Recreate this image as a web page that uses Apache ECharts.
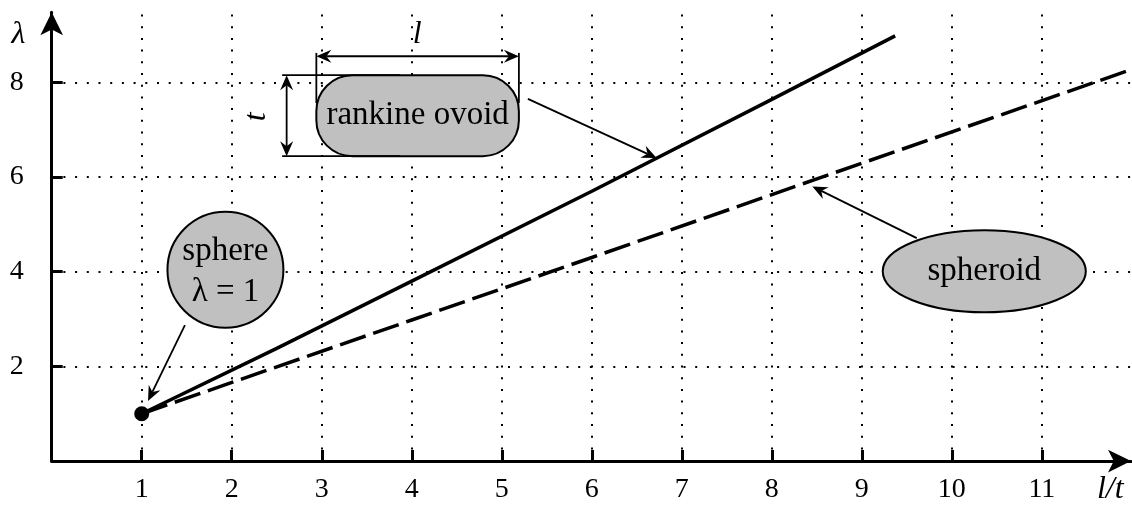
<!DOCTYPE html>
<html>
<head>
<meta charset="utf-8">
<script src="https://cdn.jsdelivr.net/npm/echarts@6/dist/echarts.min.js"></script>
<style>
  html, body { margin: 0; padding: 0; background: #ffffff; }
  #chart { width: 1132px; height: 506px; }
</style>
</head>
<body>
<div id="chart"></div>
<script>
// Slenderness ratio l/t against lambda for two body shapes
const xTickLabels = [1, 2, 3, 4, 5, 6, 7, 8, 9, 10, 11];
const yTickLabels = [2, 4, 6, 8];

const rankineX = [1, 2.5, 4, 6, 8, 9.37];
const rankineY = [1, 2.38, 3.80, 5.70, 7.64, 8.98];

const spheroidX = [1, 4, 6, 8.5, 11.98];
const spheroidY = [1, 2.98, 4.30, 5.96, 8.26];

const spherePoint = [1, 1];

const FONT = '"Liberation Serif", "DejaVu Serif", serif';

const chart = echarts.init(document.getElementById('chart'), null, { renderer: 'canvas' });

const pairs = (xs, ys) => xs.map((x, i) => [x, ys[i]]);

const axisLineStyle = { color: '#000', width: 3 };
const dotted = { color: '#000', width: 2, type: [2, 9.7] };

chart.setOption({
  animation: false,
  backgroundColor: '#ffffff',
  grid: { left: 51.7, right: 1, top: 12.2, bottom: 44.9, containLabel: false },
  xAxis: {
    type: 'value', min: 0, max: 11.99, interval: 1,
    axisLine: { show: true, lineStyle: axisLineStyle, symbol: ['none', 'arrow'], symbolSize: [17, 23] },
    axisTick: { show: true, inside: true, length: 11, customValues: xTickLabels, lineStyle: { color: '#000', width: 3 } },
    axisLabel: { margin: 15, color: '#000', fontFamily: FONT, fontSize: 28, customValues: xTickLabels },
    splitLine: { show: false }
  },
  yAxis: {
    type: 'value', min: 0, max: 9.48, interval: 2,
    axisLine: { show: true, lineStyle: axisLineStyle, symbol: ['none', 'arrow'], symbolSize: [17, 23] },
    axisTick: { show: true, inside: true, length: 11, customValues: yTickLabels, lineStyle: { color: '#000', width: 3 } },
    axisLabel: { margin: 28, color: '#000', fontFamily: FONT, fontSize: 28, customValues: yTickLabels },
    splitLine: { show: false }
  },
  series: [
    {
      // dotted reference grid at every labelled tick
      type: 'line', data: [], z: 1, silent: true,
      markLine: {
        silent: true, symbol: ['none', 'none'], z: 1,
        label: { show: false },
        lineStyle: dotted,
        emphasis: { disabled: true },
        data: xTickLabels.map(v => ({ xAxis: v })).concat(yTickLabels.map(v => ({ yAxis: v })))
      }
    },
    {
      name: 'rankine ovoid', type: 'line', data: pairs(rankineX, rankineY),
      showSymbol: false, symbol: 'none', clip: false, z: 5,
      lineStyle: { color: '#000', width: 3.5 }
    },
    {
      name: 'spheroid', type: 'line', data: pairs(spheroidX, spheroidY),
      showSymbol: false, symbol: 'none', clip: false, z: 5,
      lineStyle: { color: '#000', width: 3.5, type: [27, 8] }
    },
    {
      name: 'sphere', type: 'scatter', data: [spherePoint],
      symbol: 'circle', symbolSize: 15, z: 6,
      itemStyle: { color: '#000', opacity: 1 }
    }
  ]
});

// Annotations, anchored in data coordinates
const P = (x, y) => chart.convertToPixel({ gridIndex: 0 }, [x, y]);
const ink = '#000';
const fill = '#c0c0c0';

function head(tip, ang, L, W, notch) {
  const ux = Math.cos(ang), uy = Math.sin(ang), nx = -uy, ny = ux;
  const bx = tip[0] - ux * L, by = tip[1] - uy * L;
  return {
    type: 'polygon', z: 120,
    shape: { points: [
      tip,
      [bx + nx * W, by + ny * W],
      [tip[0] - ux * (L - notch), tip[1] - uy * (L - notch)],
      [bx - nx * W, by - ny * W]
    ] },
    style: { fill: ink }
  };
}

function arrow(a, b, both, lw) {
  const L = 15, W = 6.5, notch = 5;
  const ang = Math.atan2(b[1] - a[1], b[0] - a[0]);
  const ux = Math.cos(ang), uy = Math.sin(ang);
  const end = [b[0] - ux * (L - notch), b[1] - uy * (L - notch)];
  const start = both ? [a[0] + ux * (L - notch), a[1] + uy * (L - notch)] : a;
  const els = [
    { type: 'line', z: 120, shape: { x1: start[0], y1: start[1], x2: end[0], y2: end[1] },
      style: { stroke: ink, lineWidth: lw || 1.8 } },
    head(b, ang, L, W, notch)
  ];
  if (both) els.push(head(a, ang + Math.PI, L, W, notch));
  return els;
}

function seg(a, b, lw) {
  return { type: 'line', z: 115, shape: { x1: a[0], y1: a[1], x2: b[0], y2: b[1] },
    style: { stroke: ink, lineWidth: lw || 1.8 } };
}

function label(p, text, size, extra) {
  const el = {
    type: 'text', z: 130, x: p[0], y: p[1],
    style: { text: text, fill: ink,
      font: (extra && extra.fontStyle ? extra.fontStyle + ' ' : '') + size + 'px ' + FONT,
      align: 'center', verticalAlign: 'middle' }
  };
  if (extra && extra.rotation) el.rotation = extra.rotation;
  return el;
}

function buildGraphics() {
  const g = [];

  // rankine ovoid body with its dimension lines
  const oTL = P(2.94, 8.15), oBR = P(5.19, 6.44);
  g.push({ type: 'rect', z: 110,
    shape: { x: oTL[0], y: oTL[1], width: oBR[0] - oTL[0], height: oBR[1] - oTL[1], r: 36 },
    style: { fill: fill, stroke: ink, lineWidth: 2 } });
  g.push(label([(oTL[0] + oBR[0]) / 2, (oTL[1] + oBR[1]) / 2], 'rankine ovoid', 33));

  const lY = P(0, 8.55)[1];
  g.push(seg([oTL[0], P(0, 8.62)[1]], [oTL[0], P(0, 7.56)[1]]));
  g.push(seg([oBR[0], P(0, 8.62)[1]], [oBR[0], P(0, 7.56)[1]]));
  g.push(...arrow([oTL[0], lY], [oBR[0], lY], true));
  g.push(label(P(4.06, 9.0), 'l', 32, { fontStyle: 'italic' }));

  const tX = P(2.61, 0)[0];
  g.push(seg([P(2.56, 0)[0], oTL[1]], [P(3.87, 0)[0], oTL[1]]));
  g.push(seg([P(2.56, 0)[0], oBR[1]], [P(3.87, 0)[0], oBR[1]]));
  g.push(...arrow([tX, oTL[1]], [tX, oBR[1]], true));
  g.push(label(P(2.28, 7.27), 't', 32, { fontStyle: 'italic', rotation: Math.PI / 2 }));

  g.push(...arrow(P(5.29, 7.65), P(6.72, 6.40), false));

  // spheroid body
  const sc = P(10.36, 4.01), sx = P(11.488, 4.01), sy = P(10.36, 4.876);
  g.push({ type: 'ellipse', z: 110,
    shape: { cx: sc[0], cy: sc[1], rx: sx[0] - sc[0], ry: sc[1] - sy[1] },
    style: { fill: fill, stroke: ink, lineWidth: 2 } });
  g.push(label(sc, 'spheroid', 33));
  g.push(...arrow(P(9.61, 4.71), P(8.45, 5.80), false));

  // sphere body
  const cc = P(1.93, 4.04), cr = P(2.574, 4.04)[0] - cc[0];
  g.push({ type: 'circle', z: 110,
    shape: { cx: cc[0], cy: cc[1], r: cr },
    style: { fill: fill, stroke: ink, lineWidth: 2 } });
  g.push(label(P(1.93, 4.42), 'sphere', 33));
  g.push(label(P(1.93, 3.57), 'λ = 1', 33));
  g.push(...arrow(P(1.48, 2.87), P(1.07, 1.27), false));

  // axis titles
  g.push(label(P(-0.37, 9.0), 'λ', 32, { fontStyle: 'italic' }));
  g.push(label(P(11.76, -0.61), 'l/t', 32, { fontStyle: 'italic' }));

  return g;
}

chart.setOption({ graphic: buildGraphics() });
</script>
</body>
</html>
